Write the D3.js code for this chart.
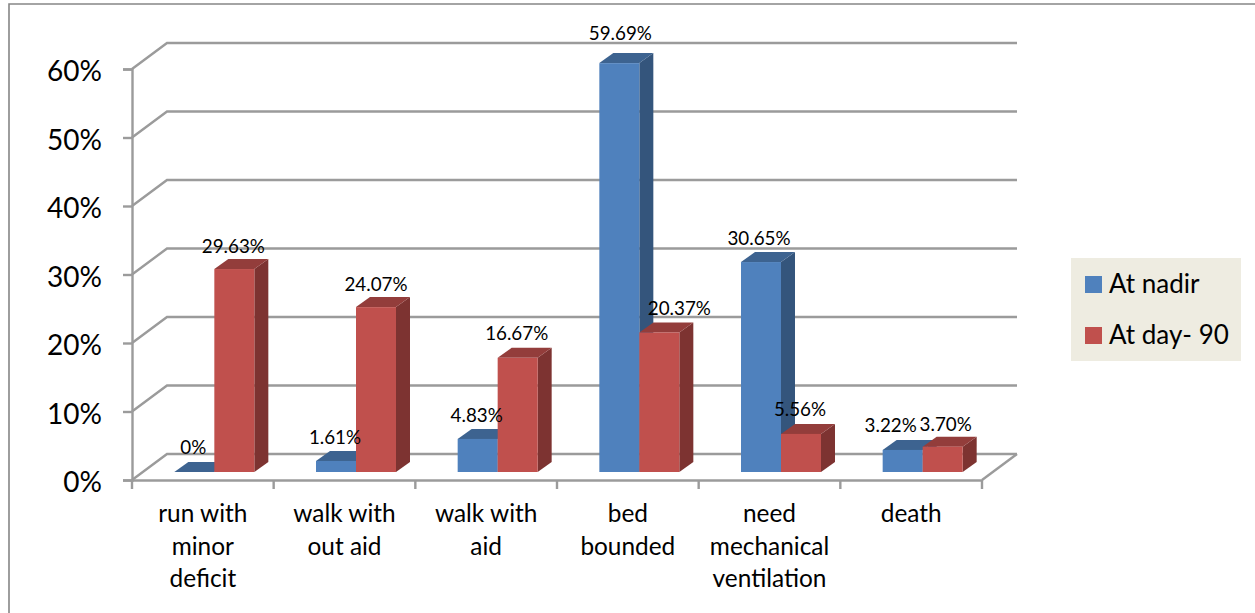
<!DOCTYPE html>
<html>
<head>
<meta charset="utf-8">
<script src="https://cdn.jsdelivr.net/npm/d3@7"></script>
<style>
  html, body { margin: 0; padding: 0; background: #fff; }
  svg { display: block; }
  text { font-family: Lato, "Open Sans", sans-serif; fill: #000; }
</style>
</head>
<body>
<svg width="1255" height="613"></svg>
<script>
const categories = ["run with minor deficit", "walk with out aid", "walk with aid", "bed bounded", "need mechanical ventilation", "death"];
const categoryLines = [["run with", "minor", "deficit"], ["walk with", "out aid"], ["walk with", "aid"], ["bed", "bounded"], ["need", "mechanical", "ventilation"], ["death"]];
const seriesNames = ["At nadir", "At day- 90"];
const atNadir = [0, 1.61, 4.83, 59.69, 30.65, 3.22];
const atDay90 = [29.63, 24.07, 16.67, 20.37, 5.56, 3.70];
const nadirLabels = ["0%", "1.61%", "4.83%", "59.69%", "30.65%", "3.22%"];
const day90Labels = ["29.63%", "24.07%", "16.67%", "20.37%", "5.56%", "3.70%"];
const yTicks = [0, 10, 20, 30, 40, 50, 60];

const svg = d3.select("svg");

// chart frame
svg.append("path")
   .attr("d", "M9,613V4H1255")
   .attr("fill", "none")
   .attr("stroke", "#868686")
   .attr("stroke-width", 1.6);

const x = d3.scaleBand().domain(categories).range([132, 982]);
const y = d3.scaleLinear().domain([0, 60]).range([480, 69]);

// depth of the 3d floor, and of the bars on it
const wall = {dx: 35, dy: 26};
const barOff = {dx: 10, dy: 8};
const depth = {dx: 14, dy: 10};
const barW = 40;
const gridColor = "#9b9b9b";
const gridWidth = 2.4;

// back wall gridlines
const grid = svg.append("g");
grid.selectAll("path")
    .data(yTicks)
    .enter()
    .append("path")
    .attr("d", function(d) {
      return "M132," + y(d) + "L" + (132 + wall.dx) + "," + (y(d) - wall.dy) + "H" + (982 + wall.dx);
    })
    .attr("fill", "none")
    .attr("stroke", gridColor)
    .attr("stroke-width", gridWidth);

// floor front and right edge
grid.append("path")
    .attr("d", "M982," + y(0) + "L" + (982 + wall.dx) + "," + (y(0) - wall.dy))
    .attr("fill", "none")
    .attr("stroke", gridColor)
    .attr("stroke-width", gridWidth);

// axes
const yAxis = svg.append("g")
   .attr("transform", "translate(132,0)")
   .call(d3.axisLeft(y).tickValues(yTicks).tickSize(9).tickPadding(21).tickFormat(function(d) { return d + "%"; }));
const xAxis = svg.append("g")
   .attr("transform", "translate(0," + y(0) + ")")
   .call(d3.axisBottom(x).tickValues([]).tickSizeOuter(0));
xAxis.selectAll("g.edge")
   .data(d3.range(categories.length + 1))
   .enter()
   .append("line")
   .attr("x1", function(d) { return x.range()[0] + d * x.step(); })
   .attr("x2", function(d) { return x.range()[0] + d * x.step(); })
   .attr("y1", 0)
   .attr("y2", 9)
   .attr("stroke", gridColor)
   .attr("stroke-width", gridWidth);
svg.selectAll(".domain").attr("stroke", gridColor).attr("stroke-width", gridWidth);
yAxis.selectAll(".tick line").attr("stroke", gridColor).attr("stroke-width", gridWidth);
yAxis.selectAll("text")
     .attr("dy", "0.42em")
     .style("font-size", "28px")
     .style("font-family", "Lato");

// category labels
categories.forEach(function(c, i) {
  const cx = x(c) + x.bandwidth() / 2;
  categoryLines[i].forEach(function(line, j) {
    svg.append("text")
       .attr("x", cx)
       .attr("y", 522 + j * 32.5)
       .attr("text-anchor", "middle")
       .style("font-size", "24.4px")
       .text(line);
  });
});

// 3d bar: side, top, then front
function bar(g, bx, value, front, top, side) {
  const y0 = y(0) - barOff.dy;
  const y1 = y(value) - barOff.dy;
  g.append("path")
   .attr("d", "M" + (bx + barW) + "," + y0 + "V" + y1 + "l" + depth.dx + "," + (-depth.dy) + "V" + (y0 - depth.dy) + "Z")
   .attr("fill", side);
  g.append("path")
   .attr("d", "M" + bx + "," + y1 + "l" + depth.dx + "," + (-depth.dy) + "h" + barW + "l" + (-depth.dx) + "," + depth.dy + "Z")
   .attr("fill", top);
  g.append("rect")
   .attr("x", bx)
   .attr("y", y1)
   .attr("width", barW)
   .attr("height", y0 - y1)
   .attr("fill", front);
}

const bars = svg.append("g");
categories.forEach(function(c, i) {
  const bx = x(c) + x.bandwidth() / 2 + barOff.dx + 1.5;
  bar(bars, bx - barW, atNadir[i], "#4f81bd", "#3d6390", "#34557c");
  bar(bars, bx, atDay90[i], "#c0504d", "#933d3b", "#7d3331");
});

// value labels, nudged off the bars the way they sit in the original
const nadirOffsets = [[-1, -8], [-1, -7], [-1, -7], [1, -13], [-2, -7], [-12, -8]];
const day90Offsets = [[-1, -6], [0, -6], [-1, -8], [20, -7], [-1, -8], [3, -6]];
const labels = svg.append("g");
categories.forEach(function(c, i) {
  const bx = x(c) + x.bandwidth() / 2 + barOff.dx + 1.5;
  labels.append("text")
     .attr("x", bx - barW / 2 + nadirOffsets[i][0])
     .attr("y", y(atNadir[i]) - barOff.dy - depth.dy + nadirOffsets[i][1])
     .attr("text-anchor", "middle")
     .style("font-size", "18.8px")
     .text(nadirLabels[i]);
  labels.append("text")
     .attr("x", bx + barW / 2 + day90Offsets[i][0])
     .attr("y", y(atDay90[i]) - barOff.dy - depth.dy + day90Offsets[i][1])
     .attr("text-anchor", "middle")
     .style("font-size", "18.8px")
     .text(day90Labels[i]);
});

// legend
const legend = svg.append("g");
legend.append("rect")
   .attr("x", 1071).attr("y", 258).attr("width", 170).attr("height", 103)
   .attr("fill", "#eeece1");
const legendColor = d3.scaleOrdinal().domain(seriesNames).range(["#4f81bd", "#c0504d"]);
seriesNames.forEach(function(n, i) {
  legend.append("rect")
     .attr("x", 1085).attr("y", 276 + i * 51).attr("width", 17).attr("height", 17)
     .attr("fill", legendColor(n));
  legend.append("text")
     .attr("x", 1109).attr("y", 293 + i * 51)
     .style("font-size", "26px")
     .text(n);
});
</script>
</body>
</html>
